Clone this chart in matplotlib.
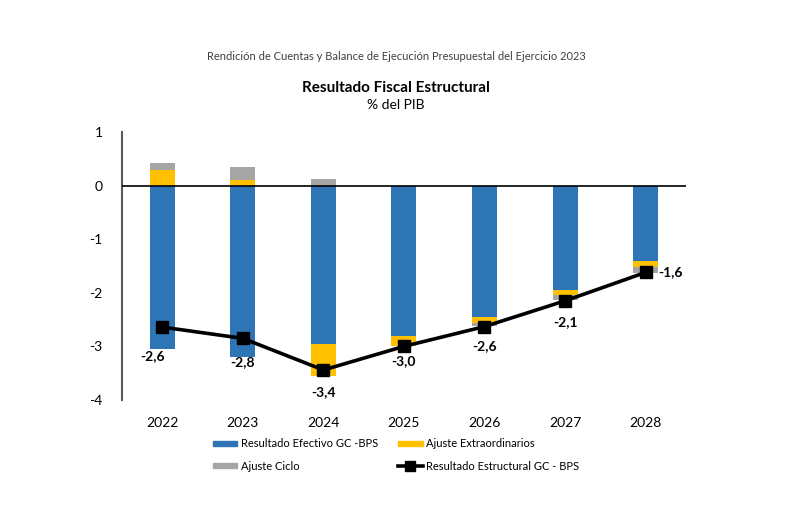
import matplotlib
matplotlib.use('Agg')
import matplotlib.pyplot as plt
import matplotlib.patches as mpatches
import matplotlib.lines as mlines
import numpy as np

plt.rcParams['font.family'] = ['Lato', 'DejaVu Sans']

# data (% del PIB)
years = ['2022', '2023', '2024', '2025', '2026', '2027', '2028']
efectivo = [-3.05, -3.2, -2.95, -2.8, -2.45, -1.94, -1.4]
extraordinarios = [0.3, 0.1, -0.6, -0.2, -0.12, -0.11, -0.11]
ciclo = [0.12, 0.25, 0.12, 0.0, -0.05, -0.09, -0.12]
estructural = [-2.64, -2.85, -3.44, -3.0, -2.63, -2.15, -1.62]
labels = ['-2,6', '-2,8', '-3,4', '-3,0', '-2,6', '-2,1', '-1,6']

c_blue = '#2E75B6'
c_yellow = '#FFC000'
c_gray = '#A5A5A5'

fig = plt.figure(figsize=(7.92, 5.08), dpi=100)
ax = fig.add_axes([0.154, 0.2126, 0.712, 0.5276])

x = np.arange(len(years))
w = 0.31

# stack positives and negatives separately, like a spreadsheet chart
pos = np.zeros(len(years))
neg = np.zeros(len(years))
for vals, col in [(efectivo, c_blue), (extraordinarios, c_yellow), (ciclo, c_gray)]:
    vals = np.array(vals)
    bottom = np.where(vals >= 0, pos, neg)
    ax.bar(x, vals, w, bottom=bottom, color=col, zorder=2)
    pos = pos + np.where(vals >= 0, vals, 0)
    neg = neg + np.where(vals < 0, vals, 0)

ax.plot(x, estructural, color='black', lw=2.6, marker='s', ms=8, zorder=4)

offsets = [(-10, -29), (0, -24), (0, -22), (0, -15), (0, -20), (0, -21), (25, 0)]
for xi, yi, lab, off in zip(x, estructural, labels, offsets):
    ax.annotate(lab, (xi, yi), xytext=off, textcoords='offset pixels',
                ha='center', va='center', fontsize=10, fontweight='bold')

ax.axhline(0, color='black', lw=1.2, zorder=3)
ax.set_xlim(-0.5, 6.5)
ax.set_ylim(-4, 1)
ax.set_yticks([1, 0, -1, -2, -3, -4])
ax.set_yticklabels(['1', '0', '-1', '-2', '-3', '-4'])
ax.set_xticks(x)
ax.set_xticklabels(years)
for s in ['top', 'right', 'bottom']:
    ax.spines[s].set_visible(False)
ax.spines['left'].set_color('#595959')
ax.spines['left'].set_linewidth(1.5)
ax.tick_params(axis='y', length=0, pad=14, labelsize=10)
ax.tick_params(axis='x', length=0, pad=12, labelsize=10)

fig.text(0.5, 1 - 57 / 508, 'Rendición de Cuentas y Balance de Ejecución Presupuestal del Ejercicio 2023',
         ha='center', va='center', fontsize=8, color='#404040')
fig.text(0.5, 1 - 88 / 508, 'Resultado Fiscal Estructural', ha='center', va='center',
         fontsize=11, fontweight='bold')
fig.text(0.5, 1 - 105 / 508, '% del PIB', ha='center', va='center', fontsize=10)

h_ef = mpatches.Patch(color=c_blue, label='Resultado Efectivo GC -BPS')
h_ci = mpatches.Patch(color=c_gray, label='Ajuste Ciclo')
h_ex = mpatches.Patch(color=c_yellow, label='Ajuste Extraordinarios')
h_es = mlines.Line2D([], [], color='black', lw=2.6, marker='s', ms=7, label='Resultado Estructural GC - BPS')
fig.legend(handles=[h_ef, h_ci, h_ex, h_es], ncol=2, loc='center',
           bbox_to_anchor=(0.5, 1 - 455 / 508), frameon=False, fontsize=8,
           handlelength=2.2, handleheight=0.35, handletextpad=0.3, columnspacing=1.8,
           labelspacing=1.0)

fig.savefig('out.png', dpi=100)
